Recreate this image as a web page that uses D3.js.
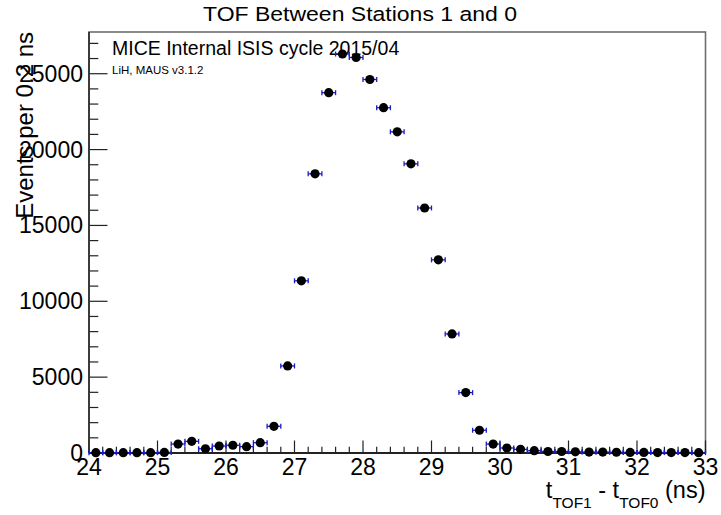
<!DOCTYPE html>
<html>
<head>
<meta charset="utf-8">
<script src="https://cdn.jsdelivr.net/npm/d3@7"></script>
<style>
  body { margin: 0; background: #fff; }
  svg { font-family: "Liberation Sans", Arial, sans-serif; }
</style>
</head>
<body>
<div id="main"></div>
<script>
// bin centres (ns), 0.2 ns wide bins
const binCentres = [24.1, 24.3, 24.5, 24.7, 24.9, 25.1, 25.3, 25.5, 25.7, 25.9,
  26.1, 26.3, 26.5, 26.7, 26.9, 27.1, 27.3, 27.5, 27.7, 27.9,
  28.1, 28.3, 28.5, 28.7, 28.9, 29.1, 29.3, 29.5, 29.7, 29.9,
  30.1, 30.3, 30.5, 30.7, 30.9, 31.1, 31.3, 31.5, 31.7, 31.9,
  32.1, 32.3, 32.5, 32.7, 32.9];
const binCounts = [20, 20, 20, 20, 20, 40, 590, 770, 280, 460,
  510, 420, 680, 1760, 5740, 11350, 18400, 23750, 26300, 26070,
  24620, 22760, 21170, 19060, 16150, 12730, 7850, 3980, 1500, 590,
  330, 240, 150, 100, 100, 80, 60, 60, 50, 40,
  40, 30, 30, 30, 20];
const binWidth = 0.2;

const xTicks = [24, 25, 26, 27, 28, 29, 30, 31, 32, 33];
const yTicks = [0, 5000, 10000, 15000, 20000, 25000];

const chartTitle = "TOF Between Stations 1 and 0";
const labelLine1 = "MICE Internal ISIS cycle 2015/04";
const labelLine2 = "LiH, MAUS v3.1.2";
const yTitle = "Events per 0.2 ns";

class TofHisto {
  constructor(config) {
    this.config = config;
    this.svg = null;
    this.x = null;
    this.y = null;
    this.createSvg();
  }

  createSvg() {
    this.svg = d3.select(this.config.div)
      .append("svg")
      .attr("width", this.config.width)
      .attr("height", this.config.height);
  }

  createScales() {
    const c = this.config;
    this.x = d3.scaleLinear().domain([24, 33]).range([c.left, c.width - c.right]);
    this.y = d3.scaleLinear().domain([0, 27750]).range([c.height - c.bottom, c.top]);
  }

  createAxis() {
    const c = this.config;
    const x0 = c.left, x1 = c.width - c.right;
    const y0 = c.height - c.bottom, y1 = c.top;

    // frame
    this.svg.append("rect")
      .attr("x", x0).attr("y", y1)
      .attr("width", x1 - x0).attr("height", y0 - y1)
      .attr("fill", "none")
      .attr("stroke", "#6e6e6e")
      .attr("stroke-width", 1.6);

    // x ticks (inside, pointing up)
    const xMinor = d3.range(24, 33.001, 0.2);
    this.svg.append("g").selectAll("line")
      .data(xMinor)
      .enter().append("line")
        .attr("x1", d => this.x(d)).attr("x2", d => this.x(d))
        .attr("y1", y0)
        .attr("y2", d => Math.abs(d - Math.round(d)) < 1e-6 ? y0 - 12.5 : y0 - 6.3)
        .attr("stroke", "#222").attr("stroke-width", 1.2);

    // y ticks (inside, pointing right)
    const yMinor = d3.range(0, 27001, 1000);
    this.svg.append("g").selectAll("line")
      .data(yMinor)
      .enter().append("line")
        .attr("y1", d => this.y(d)).attr("y2", d => this.y(d))
        .attr("x1", x0)
        .attr("x2", d => d % 5000 === 0 ? x0 + 18.5 : x0 + 9.3)
        .attr("stroke", "#222").attr("stroke-width", 1.2);

    // axis lines
    this.svg.append("line")
      .attr("x1", x0).attr("x2", x1).attr("y1", y0).attr("y2", y0)
      .attr("stroke", "#222").attr("stroke-width", 1.8);
    this.svg.append("line")
      .attr("x1", x0).attr("x2", x0).attr("y1", y0).attr("y2", y1)
      .attr("stroke", "#333").attr("stroke-width", 1.8);

    // tick labels
    this.svg.append("g").selectAll("text")
      .data(xTicks)
      .enter().append("text")
        .attr("x", d => this.x(d))
        .attr("y", y0 + 22)
        .attr("text-anchor", "middle")
        .style("font-size", "23px")
        .text(d => d);

    this.svg.append("g").selectAll("text")
      .data(yTicks)
      .enter().append("text")
        .attr("x", x0 - 6)
        .attr("y", d => this.y(d) + 8)
        .attr("text-anchor", "end")
        .style("font-size", "23px")
        .text(d => d);

    // axis titles
    const xt = this.svg.append("text")
      .attr("x", x1)
      .attr("y", y0 + 45)
      .attr("text-anchor", "end")
      .style("font-size", "23.5px");
    xt.append("tspan").text("t");
    xt.append("tspan").attr("dy", 9.5).style("font-size", "15.5px").text("TOF1");
    xt.append("tspan").attr("dy", -9.5).text(" - t");
    xt.append("tspan").attr("dy", 9.5).style("font-size", "15.5px").text("TOF0");
    xt.append("tspan").attr("dy", -9.5).text(" (ns)");

    this.svg.append("text")
      .attr("transform", `translate(33,${y1}) rotate(-90)`)
      .attr("text-anchor", "end")
      .style("font-size", "24px")
      .text(yTitle);

    // title and labels
    this.svg.append("text")
      .attr("x", 360)
      .attr("y", 20.5)
      .attr("text-anchor", "middle")
      .attr("textLength", 314)
      .attr("lengthAdjust", "spacingAndGlyphs")
      .style("font-size", "20.5px")
      .text(chartTitle);

    this.svg.append("text")
      .attr("x", 112)
      .attr("y", 55)
      .style("font-size", "19.5px")
      .text(labelLine1);

    this.svg.append("text")
      .attr("x", 112)
      .attr("y", 74)
      .style("font-size", "11.5px")
      .text(labelLine2);
  }

  drawPoints() {
    const data = binCentres.map((d, i) => ({ t: d, n: binCounts[i] }));
    const blue = "#1c1cc8";

    const g = this.svg.append("g");
    // horizontal error bars with end caps
    g.selectAll(".ebar")
      .data(data)
      .enter().append("line")
        .attr("class", "ebar")
        .attr("x1", d => this.x(d.t - binWidth / 2))
        .attr("x2", d => this.x(d.t + binWidth / 2))
        .attr("y1", d => this.y(d.n)).attr("y2", d => this.y(d.n))
        .attr("stroke", blue).attr("stroke-width", 1.3);
    g.selectAll(".capl")
      .data(data)
      .enter().append("line")
        .attr("class", "capl")
        .attr("x1", d => this.x(d.t - binWidth / 2))
        .attr("x2", d => this.x(d.t - binWidth / 2))
        .attr("y1", d => this.y(d.n) - 2.5).attr("y2", d => this.y(d.n) + 2.5)
        .attr("stroke", blue).attr("stroke-width", 1.3);
    g.selectAll(".capr")
      .data(data)
      .enter().append("line")
        .attr("class", "capr")
        .attr("x1", d => this.x(d.t + binWidth / 2))
        .attr("x2", d => this.x(d.t + binWidth / 2))
        .attr("y1", d => this.y(d.n) - 2.5).attr("y2", d => this.y(d.n) + 2.5)
        .attr("stroke", blue).attr("stroke-width", 1.3);

    g.selectAll("circle")
      .data(data)
      .enter().append("circle")
        .attr("cx", d => this.x(d.t))
        .attr("cy", d => this.y(d.n))
        .attr("r", 4.6)
        .attr("fill", "#000");
  }
}

function main() {
  let c = { div: "#main", width: 721, height: 515, top: 32, left: 89, bottom: 62, right: 15.5 };
  let h = new TofHisto(c);
  h.createScales();
  h.createAxis();
  h.drawPoints();
}

main();
</script>
</body>
</html>
